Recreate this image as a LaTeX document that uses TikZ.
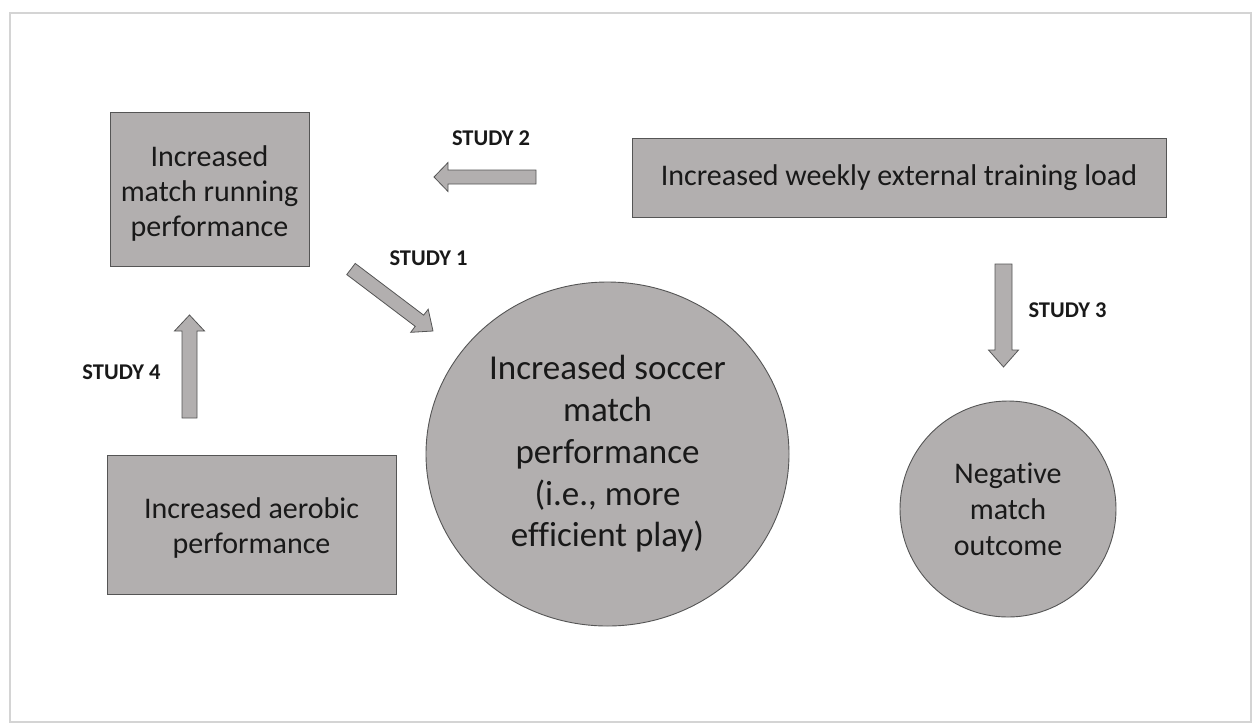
\documentclass[tikz,border=0pt]{standalone}
\usepackage{fontspec}
\setmainfont[Ligatures=NoCommon]{Carlito}
\usetikzlibrary{calc,shapes.geometric}
\definecolor{boxfill}{RGB}{178,175,175}
\definecolor{boxline}{RGB}{85,85,85}
\definecolor{framec}{RGB}{212,212,212}
\definecolor{txtc}{RGB}{25,25,25}
\newcommand\blkarrow[5]{%
  \coordinate (bh) at ($(#2)!#5!(#1)$);
  \draw[blkarrow] ($(#1)!#3!90:(#2)$) -- ($(bh)!#3!90:(#2)$) -- ($(bh)!#4!90:(#2)$) -- (#2)
    -- ($(bh)!#4!-90:(#2)$) -- ($(bh)!#3!-90:(#2)$) -- ($(#1)!#3!-90:(#2)$) -- cycle;}
\begin{document}
\begin{tikzpicture}[x=1pt,y=-1pt,
  shapebox/.style={draw=boxline, fill=boxfill, line width=0.9pt, inner sep=0pt, align=center, text=txtc},
  boxtext/.style={font=\fontsize{30}{35}\selectfont, align=center, text=txtc, inner sep=0pt},
  blkarrow/.style={draw=boxline, fill=boxfill, line width=0.8pt, line join=miter},
  studylbl/.style={font=\fontsize{22.5}{24}\selectfont\bfseries, text=txtc, inner sep=0pt}]
\useasboundingbox (0,0) rectangle (1255,724);
\draw[framec, line width=1.8pt] (10,13) rectangle (1251,722);
% boxes
\node[shapebox, minimum width=199pt, minimum height=154pt] (run) at (209.5,189) {};
\node[boxtext] (runtxt) at ($(run.center)+(0,4)$) {Increased\\match running\\performance};
\node[shapebox, boxtext, minimum width=534pt, minimum height=79pt] (load) at (899,177.5) {Increased weekly external training load};
\node[shapebox, minimum width=289pt, minimum height=139pt] (aero) at (251.5,524.5) {};
\node[boxtext] (aerotxt) at ($(aero.center)+(0,3)$) {Increased aerobic\\performance};
\node[shapebox, ellipse, font=\fontsize{35}{41.7}\selectfont, minimum width=363pt, minimum height=344pt] (socc) at (607.5,454) {Increased soccer\\match\\performance\\(i.e., more\\efficient play)};
\node[shapebox, circle, font=\fontsize{30}{36}\selectfont, minimum size=216pt] (neg) at (1008,509) {Negative\\match\\outcome};
% block arrows
\coordinate (s2a) at (536,177);  \coordinate (s2b) at (434,177);
\coordinate (s1a) at (351,269);  \coordinate (s1b) at (433,331);
\coordinate (s4a) at (189.5,418); \coordinate (s4b) at (189.5,315);
\coordinate (s3a) at (1003.5,264); \coordinate (s3b) at (1003.5,367);
\blkarrow{s2a}{s2b}{7pt}{14.5pt}{14pt}
\blkarrow{s1a}{s1b}{7pt}{14.5pt}{17pt}
\blkarrow{s4a}{s4b}{7.5pt}{15pt}{16pt}
\blkarrow{s3a}{s3b}{8.5pt}{15pt}{17pt}
% labels
\node[studylbl] (l2) at (491,138.5) {STUDY 2};
\node[studylbl] (l1) at (428.5,258) {STUDY 1};
\node[studylbl] (l4) at (121.5,372.5) {STUDY 4};
\node[studylbl] (l3) at (1067.5,310.5) {STUDY 3};
\end{tikzpicture}
\end{document}
